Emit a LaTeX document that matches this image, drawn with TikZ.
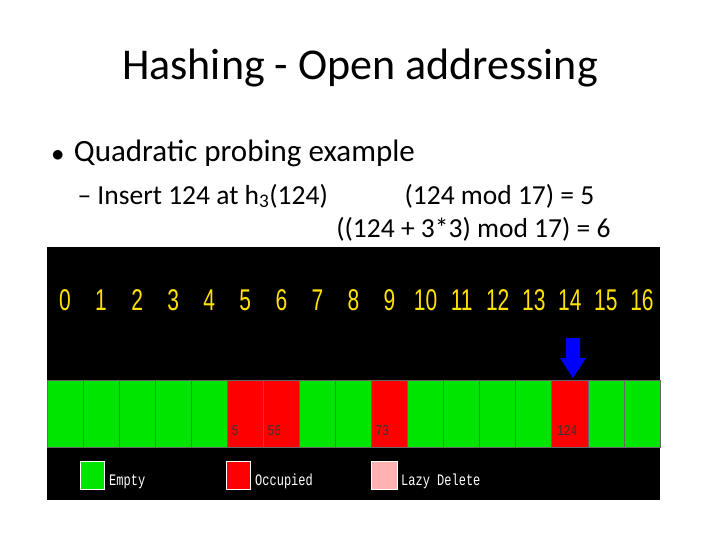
\documentclass[tikz,border=0pt]{standalone}
\usepackage{fontspec}
\setmainfont{Carlito}
\newfontfamily\monof{Liberation Mono}[FakeStretch=0.75]
\newfontfamily\numf{Liberation Sans}[FakeStretch=0.7]
\begin{document}
\begin{tikzpicture}[x=1pt,y=-1pt,
  cellg/.style={fill=green!90!black!100, draw=black!60, line width=0.8pt},
  cellr/.style={fill=red, draw=black!60, line width=0.8pt},
  idx/.style={text=yellow!85!orange, font=\numf\fontsize{30}{30}\selectfont},
  val/.style={font=\monof\fontsize{15}{15}\selectfont, text=black!80, anchor=south west, inner sep=0pt},
  leg/.style={font=\monof\fontsize{16}{16}\selectfont, text=white!90, anchor=south west, inner sep=0pt}]
\useasboundingbox (0,0) rectangle (720,540);
\node (title) at (360,68) {\fontsize{44}{44}\selectfont Hashing - Open addressing};
\node[anchor=west] (b1) at (48,153) {\fontsize{31}{31}\selectfont $\bullet$\hspace{10pt}Quadratic probing example};
\node[anchor=west] (b2) at (74,196) {\fontsize{27.5}{27.5}\selectfont -- Insert 124 at h\textsubscript{3}(124)};
\node[anchor=west] (b3) at (401,196) {\fontsize{27.5}{27.5}\selectfont (124 mod 17) = 5};
\node[anchor=east] (b4) at (614,229) {\fontsize{27.5}{27.5}\selectfont ((124 + 3*3) mod 17) = 6};
\fill[black] (47,247) rectangle (660,500);
\foreach \i in {0,...,16}{
  \pgfmathsetmacro{\xa}{47+\i*36.06}
  \pgfmathsetmacro{\xc}{\xa+18}
  \node[idx] (n\i) at (\xc,300) {\i};
  \ifnum\i=5 \def\st{cellr}\else\ifnum\i=6 \def\st{cellr}\else\ifnum\i=9 \def\st{cellr}\else\ifnum\i=14 \def\st{cellr}\else\def\st{cellg}\fi\fi\fi\fi
  \draw[\st] (\xa,380) rectangle ++(36.06,67);
  \coordinate (c\i) at (\xa,447);
}
\node[val] (v5) at ([shift={(4,-11)}]c5) {5};
\node[val] (v6) at ([shift={(4,-11)}]c6) {56};
\node[val] (v9) at ([shift={(4,-11)}]c9) {73};
\node[val] (v14) at ([shift={(5,-11)}]c14) {124};
\fill[blue] (566,338) rectangle (580,358) (560,358) -- (586,358) -- (573,378) -- cycle;
\draw[fill=green!90!black, draw=white] (80,461) rectangle (104,489);
\draw[fill=red, draw=white] (226,461) rectangle (250,489);
\draw[fill=red!30, draw=white] (371,461) rectangle (397,489);
\node[leg] (l1) at (109,489) {Empty};
\node[leg] (l2) at (255,489) {Occupied};
\node[leg] (l3) at (401,489) {Lazy Delete};
\end{tikzpicture}
\end{document}
